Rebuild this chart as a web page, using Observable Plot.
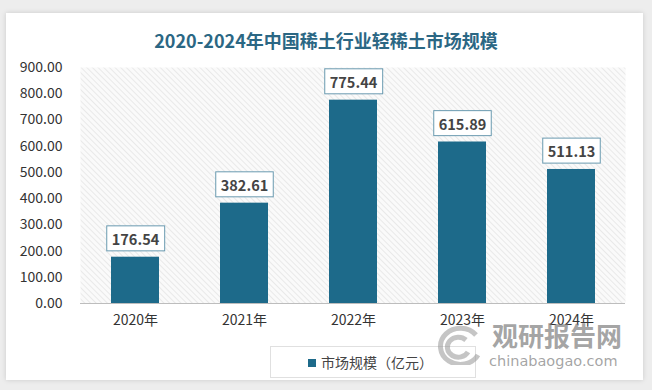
<!DOCTYPE html>
<html><head><meta charset="utf-8">
<script src="https://cdn.jsdelivr.net/npm/d3@7"></script>
<script src="https://cdn.jsdelivr.net/npm/@observablehq/plot@0.6"></script>
<style>
html,body{margin:0;padding:0;}
body{width:652px;height:390px;background:#ededed;position:relative;overflow:hidden;font-family:"Noto Sans CJK SC","Noto Sans",sans-serif;}
#card{position:absolute;left:6px;top:13px;width:637px;height:367px;background:#fff;box-shadow:0 0 5px rgba(0,0,0,0.15);}
#title{position:absolute;left:0;top:27px;width:652px;text-align:center;font-size:18px;font-weight:bold;color:#2b6784;line-height:26px;}
#chart{position:absolute;left:0;top:55px;}
#legend{position:absolute;left:270px;top:346px;width:204px;height:30px;border:1px solid #e0e0e0;background:#fff;font-size:14px;color:#444;line-height:30px;}
#legend .sw{display:inline-block;width:8px;height:8px;background:#1d6a8a;margin-left:37px;margin-right:5px;vertical-align:1px;}
#wm1{position:absolute;left:492px;top:315px;font-size:26px;line-height:40px;font-weight:bold;color:rgba(125,125,125,0.7);}
#wm2{position:absolute;left:489px;top:351px;font-size:14.5px;line-height:20px;color:rgba(125,125,125,0.7);font-family:"DejaVu Sans",sans-serif;}
#logo{position:absolute;left:432px;top:325px;}
</style></head>
<body>
<div id="card"></div>
<div id="title">2020-2024年中国稀土行业轻稀土市场规模</div>
<div id="chart"></div>
<div id="legend"><span class="sw"></span>市场规模（亿元）</div>
<svg id="logo" width="50" height="40"><g fill="none" stroke="rgba(150,150,150,0.55)" stroke-width="5"><path d="M44 10 A20 18 0 1 0 46 30"/><path d="M34 15 A11 10 0 1 0 36 27"/></g></svg>
<div id="wm1">观研报告网</div>
<div id="wm2">chinabaogao.com</div>
<script>
const years = ["2020年","2021年","2022年","2023年","2024年"];
const values = [176.54, 382.61, 775.44, 615.89, 511.13];
const yTicks = [0,100,200,300,400,500,600,700,800,900];
const data = years.map((y,i)=>({year:y, value:values[i]}));

const plot = Plot.plot({
  width: 652, height: 290,
  marginLeft: 80, marginRight: 27, marginTop: 12, marginBottom: 42,
  style: {fontFamily: '"Noto Sans CJK SC","Noto Sans",sans-serif', fontSize: "14px", color: "#333", background: "transparent"},
  x: {domain: years, paddingInner: 0.56, paddingOuter: 0.275, label: null, tickSize: 0, tickPadding: 12},
  y: {domain: [0,900], ticks: yTicks, tickFormat: d => d.toFixed(2), label: null, tickSize: 0, tickPadding: 18},
  marks: [
    Plot.frame({fill: "url(#hatch)", stroke: "none"}),
    Plot.barY(data, {x: "year", y: "value", fill: "#1d6a8a"}),
    Plot.ruleY([0], {stroke: "#bdbdbd"}),
    Plot.text(data, {x: "year", y: "value", text: d => d.value.toFixed(2), dy: -17, fontWeight: "bold", fontSize: 14.5, fill: "#444", className: "vlabel"})
  ]
});
document.getElementById("chart").appendChild(plot);
const ns = "http://www.w3.org/2000/svg";
const defs = document.createElementNS(ns, "defs");
defs.innerHTML = '<pattern id="hatch" width="4" height="4" patternUnits="userSpaceOnUse" patternTransform="rotate(-45)"><rect width="4" height="4" fill="#fafafa"/><line x1="0" y1="0" x2="0" y2="4" stroke="#dedede" stroke-width="1.2"/></pattern>';
plot.insertBefore(defs, plot.firstChild);
plot.querySelectorAll("g.vlabel text").forEach(t => {
  const b = t.getBBox();
  const r = document.createElementNS(ns, "rect");
  r.setAttribute("x", b.x - 5); r.setAttribute("y", b.y - 2);
  r.setAttribute("width", b.width + 10); r.setAttribute("height", b.height + 4);
  r.setAttribute("fill", "#fff"); r.setAttribute("stroke", "#6a9ab0"); r.setAttribute("stroke-width", "1");
  const tr = t.getAttribute("transform");
  if (tr) r.setAttribute("transform", tr);
  t.parentNode.insertBefore(r, t);
});
</script>
</body></html>
